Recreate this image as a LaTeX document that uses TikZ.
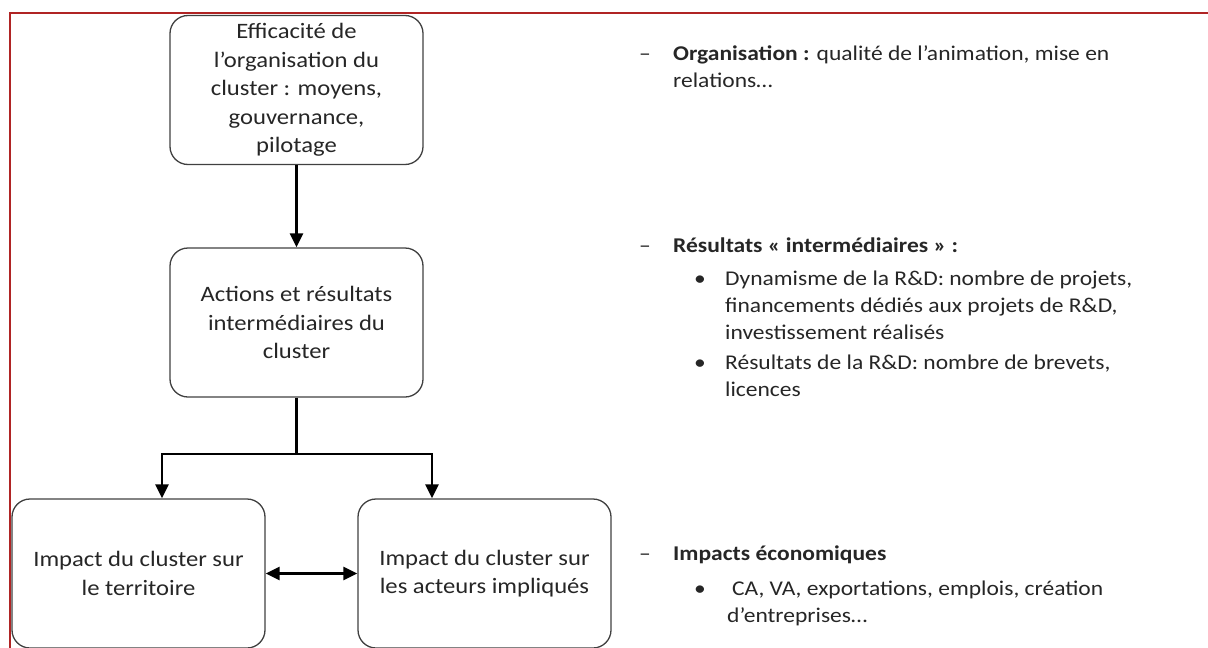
\documentclass[tikz,border=0pt]{standalone}
\usepackage{fontspec}
\setmainfont{Carlito}[FakeStretch=1.12]
\usetikzlibrary{arrows.meta,calc}
\definecolor{FrameClr}{RGB}{176,36,36}
\definecolor{BoxClr}{RGB}{64,64,64}
\definecolor{TextClr}{RGB}{38,38,38}

\begin{document}
\begin{tikzpicture}[x=1pt,y=-1pt,
  bloc/.style={draw=BoxClr,line width=1.3pt,rounded corners=18pt,align=center,
    minimum width=253pt,minimum height=149pt,inner sep=2pt,text=TextClr,
    font=\fontsize{22}{28.5}\selectfont},
  link/.style={line width=2.8pt,color=black},
  flow/.style={link,-{Triangle[length=14pt,width=13pt]}},
  dflow/.style={link,{Triangle[length=14pt,width=13pt]}-{Triangle[length=14pt,width=13pt]}},
  item/.style={anchor=north west,inner sep=0pt,align=left,text=TextClr,
    font=\fontsize{21}{27}\selectfont},
  puce/.style={anchor=base,inner sep=0pt,text=TextClr,font=\fontsize{21}{27}\selectfont}]
\useasboundingbox (0,0) rectangle (1208,648);

% cadre
\draw[FrameClr,line width=2pt] (10,648) -- (10,13) -- (1208,13);

% blocs
\node[bloc] (eff) at (296.5,90) {Efficacité de\\l’organisation du\\cluster~: moyens,\\gouvernance,\\pilotage};
\node[bloc] (act) at (296.5,322.5) {Actions et résultats\\intermédiaires du\\cluster};
\node[bloc] (impT) at (138.5,573.5) {Impact du cluster sur\\le territoire};
\node[bloc] (impA) at (484.5,573.5) {Impact du cluster sur\\les acteurs impliqués};

\coordinate (split) at (296.5,454);
\coordinate (splitL) at (162,454);
\coordinate (splitR) at (432,454);

% fleches
\draw[flow] (eff) -- (act);
\draw[link] (act.south) -- (split);
\draw[flow] (split) -- (splitL) -- (splitL |- impT.north);
\draw[flow] (split) -- (splitR) -- (splitR |- impA.north);
\draw[dflow] (impT.east) -- (impA.west);

% textes de droite
\node[puce] (d1) at (645,60) {–};
\node[item] (orgT) at (673,41) {\strut\textbf{Organisation~:} qualité de l’animation, mise en\\relations…};

\node[puce] (d2) at (645,252) {–};
\node[item] (resT) at (673,233) {\strut\textbf{Résultats « intermédiaires »~:}};
\node[puce] (b1) at (700,285) {•};
\node[item] (dynT) at (725,266) {\strut Dynamisme de la R\&D: nombre de projets,\\financements dédiés aux projets de R\&D,\\investissement réalisés};
\node[puce] (b2) at (700,369) {•};
\node[item] (brvT) at (725,350) {\strut Résultats de la R\&D: nombre de brevets,\\licences};

\node[puce] (d3) at (645,560) {–};
\node[item] (ecoT) at (673,541) {\strut\textbf{Impacts économiques}};
\node[puce] (b3) at (700,595) {•};
\node[item] (caT) at (727,576) {\strut\hspace{5pt}CA, VA, exportations, emplois, création\\d’entreprises…};

\end{tikzpicture}
\end{document}
